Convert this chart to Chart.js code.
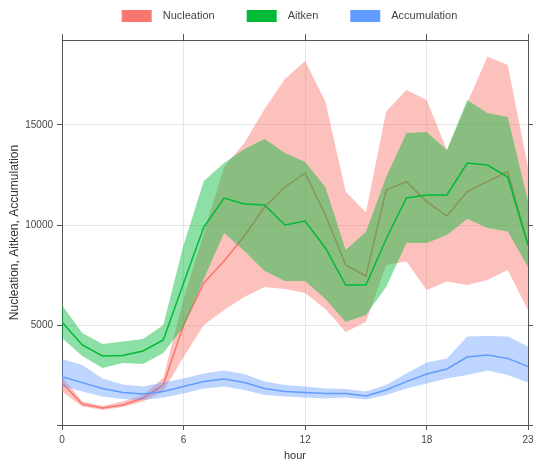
<!DOCTYPE html>
<html>
<head>
<meta charset="utf-8">
<script src="https://cdn.jsdelivr.net/npm/chart.js@4/dist/chart.umd.min.js"></script>
<style>
html,body{margin:0;padding:0;background:#ffffff;}
#wrap{width:533px;height:472px;position:relative;}
</style>
</head>
<body>
<div id="wrap"><canvas id="c"></canvas></div>
<script>
// ---- data ----
const hours = [0,1,2,3,4,5,6,7,8,9,10,11,12,13,14,15,16,17,18,19,20,21,22,23];
const xTickValues = [0, 6, 12, 18, 23];
const yTickValues = [0, 5000, 10000, 15000];
const seriesNames = ["Nucleation", "Aitken", "Accumulation"];

const nucleationMean  = [2100,1050,850,1000,1350,2000,5000,7100,8200,9450,10900,11900,12600,10500,8000,7450,11750,12170,11170,10450,11670,12170,12670,9000];
const nucleationUpper = [2400,1170,950,1170,1500,2350,6300,9600,12900,14100,15800,17300,18200,16170,11670,10620,15670,16750,16250,13750,16100,18420,18000,12900];
const nucleationLower = [1670,920,750,900,1170,1670,3400,5000,5750,6400,6900,6800,6600,5800,4650,5150,8000,8170,6750,7170,7000,7250,7750,5750];

const aitkenMean  = [5150,4000,3450,3470,3700,4250,7100,9900,11350,11050,11000,10000,10200,8850,7000,7000,9300,11350,11500,11500,13100,13000,12400,9000];
const aitkenUpper = [6000,4600,4050,4170,4300,5000,9000,12200,13100,13800,14300,13600,13150,11900,8750,9650,12400,14600,14650,13750,16250,15600,15400,11200];
const aitkenLower = [4350,3450,2850,3100,3050,3600,4900,7300,9600,8700,7700,7200,7200,6300,5150,5500,6900,9100,9100,9500,10300,9850,9670,7900];

const accumulationMean  = [2420,2120,1830,1620,1550,1670,1920,2170,2300,2120,1830,1670,1620,1580,1580,1450,1750,2170,2550,2800,3400,3500,3330,2920];
const accumulationUpper = [3300,3000,2330,2030,1920,2120,2330,2580,2720,2550,2170,2000,1920,1830,1800,1670,2000,2580,3120,3330,4420,4450,4420,3920];
const accumulationLower = [1920,1670,1420,1300,1250,1380,1580,1830,1920,1750,1500,1420,1380,1330,1380,1280,1500,1830,2080,2330,2500,2720,2500,2120];

// ---- styling ----
const colNuc = "#F8766D", colAit = "#00BA38", colAcc = "#619CFF";
const bandNuc = "rgba(248,118,109,0.45)", bandAit = "rgba(0,186,56,0.45)", bandAcc = "rgba(97,156,255,0.42)";
const FONT = "'Liberation Sans', Arial, sans-serif";

const pts = arr => hours.map((h, i) => ({x: h, y: arr[i]}));

function band(label, arr, fillColor, order, fillTarget) {
  return {
    label: label, data: pts(arr), order: order,
    borderColor: "rgba(0,0,0,0)", borderWidth: 0, pointRadius: 0, pointHoverRadius: 0,
    backgroundColor: fillColor, fill: fillTarget, tension: 0
  };
}
function meanLine(label, arr, color, order) {
  return {
    label: label, data: pts(arr), order: order,
    borderColor: color, backgroundColor: color, borderWidth: 1.5,
    pointRadius: 0, pointHoverRadius: 0, fill: false, tension: 0
  };
}

const datasets = [
  band("Nucleation upper", nucleationUpper, bandNuc, 12, "+1"),
  band("Nucleation lower", nucleationLower, bandNuc, 11, false),
  meanLine("Nucleation", nucleationMean, colNuc, 10),
  band("Aitken upper", aitkenUpper, bandAit, 9, "+1"),
  band("Aitken lower", aitkenLower, bandAit, 8, false),
  meanLine("Aitken", aitkenMean, colAit, 7),
  band("Accumulation upper", accumulationUpper, bandAcc, 6, "+1"),
  band("Accumulation lower", accumulationLower, bandAcc, 5, false),
  meanLine("Accumulation", accumulationMean, colAcc, 4)
];
const legendColors = [colNuc, colAit, colAcc];

const setTicks = values => scale => { scale.ticks = values.map(v => ({value: v})); };
const fixHeight = h => s => { s.height = h; s.paddingLeft = 0; s.paddingRight = 0; };
// legend text: a little extra gap between swatch and label (as in the reference)
const legendText = (n, i) => "\u2002" + n + (i === seriesNames.length - 1 ? "\u2002\u2002" : "");

new Chart(document.getElementById("c"), {
  type: "line",
  data: { datasets: datasets },
  options: {
    responsive: true, maintainAspectRatio: false, animation: false,
    devicePixelRatio: 1,
    layout: { autoPadding: false, padding: { top: -22, left: 0, right: 0, bottom: 0 } },
    plugins: {
      tooltip: { enabled: false },
      legend: {
        display: true, position: "top", align: "center", fullSize: false,
        labels: {
          boxWidth: 30, boxHeight: 12, padding: 32, color: "#444",
          font: { family: FONT, size: 11 },
          generateLabels: () => seriesNames.map((n, i) => ({
            text: legendText(n, i), fillStyle: legendColors[i], strokeStyle: legendColors[i],
            lineWidth: 0, hidden: false, datasetIndex: i * 3 + 2, fontColor: "#444"
          }))
        },
        onClick: () => {}
      }
    },
    scales: {
      x: {
        type: "linear", position: "bottom", min: 0, max: 23,
        afterBuildTicks: setTicks(xTickValues),
        afterFit: fixHeight(47),
        grid: { color: "#e6e6e6", lineWidth: 1, drawTicks: true, tickLength: 5, tickColor: "#555" },
        border: { display: true, color: "#555", width: 1 },
        ticks: { color: "#444", font: { family: FONT, size: 10 }, padding: 4, maxRotation: 0, autoSkip: false },
        title: { display: true, text: "hour", color: "#333", font: { family: FONT, size: 11 }, padding: { top: 0, bottom: 9 } }
      },
      x2: {
        type: "linear", position: "top", min: 0, max: 23,
        afterBuildTicks: setTicks(xTickValues),
        afterFit: fixHeight(8),
        grid: { drawOnChartArea: false, drawTicks: true, tickLength: 6, tickColor: "#555", color: "#555" },
        border: { display: true, color: "#555", width: 1 },
        ticks: { display: false }
      },
      y: {
        type: "linear", position: "left", min: 0, max: 19250,
        afterBuildTicks: setTicks(yTickValues),
        afterFit: s => { s.width = 62; },
        grid: { color: "#e6e6e6", lineWidth: 1, drawTicks: true, tickLength: 5, tickColor: "#555" },
        border: { display: true, color: "#555", width: 1 },
        ticks: { color: "#444", font: { family: FONT, size: 10 }, padding: 4,
                 callback: v => (v === 0 ? "" : String(v)) },
        title: { display: true, text: "Nucleation, Aitken, Accumulation", color: "#333",
                 font: { family: FONT, size: 12 }, padding: { top: 7, bottom: 0 } }
      },
      y2: {
        type: "linear", position: "right", min: 0, max: 19250,
        afterBuildTicks: setTicks(yTickValues),
        afterFit: s => { s.width = 5; },
        grid: { drawOnChartArea: false, drawTicks: true, tickLength: 5, tickColor: "#555", color: "#555" },
        border: { display: true, color: "#555", width: 1 },
        ticks: { display: false }
      }
    }
  }
});
</script>
</body>
</html>
